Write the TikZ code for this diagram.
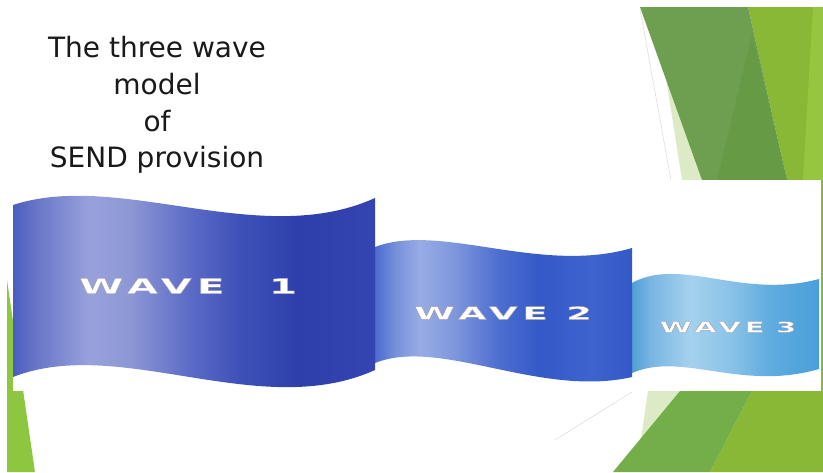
\documentclass[tikz,border=0pt]{standalone}
\usepackage{fontspec}
\usepackage{graphicx}
\newfontfamily\titlefont{DejaVu Sans}
\newfontfamily\wavefont{DejaVu Sans}[LetterSpace=13]
% greens
\definecolor{limeA}{HTML}{88B836}
\definecolor{limeB}{HTML}{94C640}
\definecolor{limeC}{HTML}{8DC63F}
\definecolor{dkgreen}{HTML}{6E9E50}
\definecolor{dkgreenB}{HTML}{669A44}
\definecolor{mdgreen}{HTML}{74AE48}
\definecolor{palegreen}{HTML}{DCEAC6}
% wave 1
\definecolor{wAa}{HTML}{4B5DC0}\definecolor{wAb}{HTML}{6675C8}\definecolor{wAc}{HTML}{98A1DA}
\definecolor{wAd}{HTML}{8E98D6}\definecolor{wAe}{HTML}{5B6BC6}\definecolor{wAf}{HTML}{3E50B8}
\definecolor{wAg}{HTML}{2E3FAC}\definecolor{wAh}{HTML}{3445B2}
% wave 2
\definecolor{wBa}{HTML}{4B6BCE}\definecolor{wBb}{HTML}{7690DA}\definecolor{wBc}{HTML}{98ACE5}
\definecolor{wBd}{HTML}{7E96DC}\definecolor{wBe}{HTML}{4C6DD0}\definecolor{wBf}{HTML}{3459C8}
\definecolor{wBg}{HTML}{3F63CD}\definecolor{wBh}{HTML}{3558C8}
% wave 3
\definecolor{wCa}{HTML}{4D9BD6}\definecolor{wCb}{HTML}{78B5E2}\definecolor{wCc}{HTML}{A5D1EE}
\definecolor{wCd}{HTML}{8AC3E8}\definecolor{wCe}{HTML}{5FACDF}\definecolor{wCf}{HTML}{4A9FDB}
\pgfdeclarehorizontalshading{waveone}{100bp}{color(0bp)=(wAa); color(25bp)=(wAa); color(28bp)=(wAb); color(35.5bp)=(wAc); color(41bp)=(wAd); color(49.5bp)=(wAe); color(56.4bp)=(wAf); color(64.6bp)=(wAg); color(75bp)=(wAh); color(100bp)=(wAh)}
\pgfdeclarehorizontalshading{wavetwo}{100bp}{color(0bp)=(wBa); color(25bp)=(wBa); color(29bp)=(wBb); color(33.75bp)=(wBc); color(40.5bp)=(wBd); color(49.3bp)=(wBe); color(57bp)=(wBf); color(67bp)=(wBg); color(75bp)=(wBh); color(100bp)=(wBh)}
\pgfdeclarehorizontalshading{wavethree}{100bp}{color(0bp)=(wCa); color(25bp)=(wCa); color(30.3bp)=(wCb); color(41bp)=(wCc); color(51.5bp)=(wCd); color(62bp)=(wCe); color(75bp)=(wCf); color(100bp)=(wCf)}
% white letters with a thin grey rim
\newcommand{\wavetxt}[2]{\scalebox{#1}[1]{\special{pdf:literal direct 2 Tr 0.3 w 0.62 0.62 0.68 RG}#2\special{pdf:literal direct 0 Tr}}}
\tikzset{
  wavelabel/.style={text=white, inner sep=0pt, anchor=center},
  banner/.style={draw=none},
}
\begin{document}
\begin{tikzpicture}[x=1pt,y=-1pt]
\useasboundingbox (0,0) rectangle (823,472);
% green facets, top and bottom right
\fill[limeA] (748,7) -- (823,7) -- (823,472) -- (710,472) -- (752,391) -- (787,180) -- cycle;
\fill[limeB] (813,7) -- (823,7) -- (823,180) -- (803,180) -- cycle;
\fill[palegreen] (666,78) -- (702,180) -- (682,180) -- cycle;
\fill[dkgreen] (640,7) -- (748,7) -- (787,180) -- (702,180) -- cycle;
\fill[dkgreenB] (752,35) -- (787,180) -- (717,180) -- cycle;
\draw[gray!30, line width=0.5] (640,9) -- (671,180);
\fill[palegreen] (648,391) -- (680,391) -- (640,445) -- cycle;
\fill[mdgreen] (680,391) -- (752,391) -- (710,472) -- (613,472) -- cycle;
\draw[gray!30, line width=0.5] (632,392) -- (555,440);
% green facet, left
\fill[limeC] (7,280) -- (35,472) -- (7,472) -- cycle;
% white panel
\fill[white] (13,180) rectangle (821,391);
% waves
\path[banner, shading=wavethree] (630,284) .. controls (680,255) and (740,300) .. (819,279)
  -- (819,369) .. controls (740,392) and (680,350) .. (630,374) -- cycle;
\path[banner, shading=wavetwo] (375,247) .. controls (440,222) and (540,275) .. (632,248)
  -- (632,377) .. controls (540,398) and (440,337) .. (375,363) -- cycle;
\path[banner, shading=waveone] (13,205) .. controls (120,170) and (260,250) .. (375,198)
  -- (375,370) .. controls (260,422) and (120,335) .. (13,377) -- cycle;
% labels
\node[wavelabel, font={\wavefont\bfseries\fontsize{21}{22}\selectfont\spaceskip=1.1em\relax}] (w1) at (188,286) {\wavetxt{1.92}{WAVE 1}};
\node[wavelabel, font={\wavefont\bfseries\fontsize{17.8}{19}\selectfont\spaceskip=0.5em\relax}] (w2) at (503,313) {\wavetxt{2.08}{WAVE 2}};
\node[wavelabel, font={\wavefont\bfseries\fontsize{14.5}{16}\selectfont\spaceskip=0.4em\relax}] (w3) at (728,327) {\wavetxt{2.0}{WAVE 3}};
% title
\node[font={\titlefont\fontsize{28}{36.7}\selectfont}, align=center, inner sep=0pt, text=black!90] (title) at (157,105) {The three wave\\model\\of\\SEND provision};
\end{tikzpicture}
\end{document}
